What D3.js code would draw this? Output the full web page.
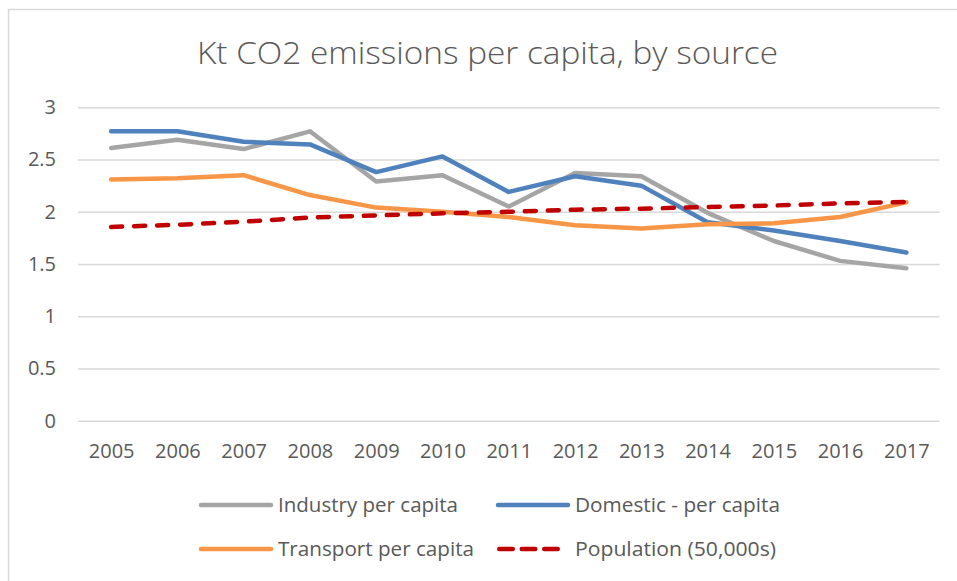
<!DOCTYPE html>
<html>
<head>
<meta charset="utf-8">
<script src="https://cdn.jsdelivr.net/npm/d3@7"></script>
<style>
  html, body { margin: 0; padding: 0; background: #fff; }
  svg { display: block; }
</style>
</head>
<body>
<svg id="chart" width="957" height="581"></svg>
<script>
// Years on the category axis
const years = ["2005", "2006", "2007", "2008", "2009", "2010", "2011", "2012", "2013", "2014", "2015", "2016", "2017"];

// Series values (kt CO2 per capita; population in 50,000s)
const industry   = [2.61, 2.69, 2.60, 2.77, 2.29, 2.35, 2.05, 2.37, 2.34, 1.99, 1.72, 1.53, 1.46];
const domestic   = [2.77, 2.77, 2.67, 2.645, 2.38, 2.53, 2.19, 2.34, 2.25, 1.90, 1.82, 1.72, 1.61];
const transport  = [2.31, 2.32, 2.35, 2.16, 2.04, 2.00, 1.95, 1.87, 1.84, 1.88, 1.89, 1.95, 2.09];
const population = [1.855, 1.875, 1.905, 1.945, 1.965, 1.985, 2.00, 2.02, 2.03, 2.045, 2.06, 2.08, 2.095];

// Value axis ticks
const yTicks = [0, 0.5, 1, 1.5, 2, 2.5, 3];

const seriesNames = ["Industry per capita", "Domestic - per capita", "Transport per capita", "Population (50,000s)"];
const seriesData = [industry, domestic, transport, population];
const seriesColors = ["#A5A5A5", "#4F81BD", "#F79646", "#C00000"];
const seriesDashed = [false, false, false, true];

const FONT = "'Open Sans', 'Noto Sans', sans-serif";
const TEXT = "#595959";

const svg = d3.select("#chart");

// Chart area frame
svg.append("rect")
  .attr("x", 8.5).attr("y", 9.5)
  .attr("width", 960).attr("height", 590)
  .attr("fill", "#fff")
  .attr("stroke", "#D9D9D9")
  .attr("stroke-width", 1.5);

const plot = { left: 78, right: 939.5, top: 107.3, bottom: 420.7 };

const x = d3.scalePoint().domain(years).range([plot.left, plot.right]).padding(0.5);
const y = d3.scaleLinear().domain([0, 3]).range([plot.bottom, plot.top]);

// Title
svg.append("text")
  .attr("x", 487.5).attr("y", 64)
  .attr("text-anchor", "middle")
  .attr("font-family", FONT)
  .attr("font-weight", 300)
  .attr("font-size", 31)
  .attr("fill", TEXT)
  .attr("textLength", 581)
  .attr("lengthAdjust", "spacingAndGlyphs")
  .text("Kt CO2 emissions per capita, by source");

// Horizontal gridlines
const grid = svg.append("g")
  .attr("transform", `translate(${plot.left},0)`)
  .call(d3.axisLeft(y).tickValues(yTicks).tickSize(-(plot.right - plot.left)).tickFormat(""));
grid.select(".domain").remove();
grid.selectAll(".tick line").attr("stroke", "#D9D9D9").attr("stroke-width", 1.5);

// Value axis labels
const yAxis = svg.append("g")
  .attr("transform", `translate(${plot.left},0)`)
  .call(d3.axisLeft(y).tickValues(yTicks).tickSize(0).tickPadding(22).tickFormat(d => String(d)));
yAxis.select(".domain").remove();
yAxis.selectAll("text")
  .attr("font-family", FONT).attr("font-size", 20).attr("fill", TEXT);

// Category axis labels
const xAxis = svg.append("g")
  .attr("transform", `translate(0,${plot.bottom})`)
  .call(d3.axisBottom(x).tickSize(0).tickPadding(23));
xAxis.select(".domain").remove();
xAxis.selectAll("text")
  .attr("font-family", FONT).attr("font-size", 20).attr("fill", TEXT);

// Series lines
const line = d3.line()
  .x((d, i) => x(years[i]))
  .y(d => y(d));

seriesData.forEach((vals, k) => {
  svg.append("path")
    .datum(vals)
    .attr("d", line)
    .attr("fill", "none")
    .attr("stroke", seriesColors[k])
    .attr("stroke-width", 4.5)
    .attr("stroke-linejoin", "round")
    .attr("stroke-linecap", "round")
    .attr("stroke-dasharray", seriesDashed[k] ? "11,12" : null);
});

// Legend: two rows of two entries
const legendCols = [200, 497];
const legendRows = [505, 549];
const legendTextLen = [180, 205, 196, 201];
seriesNames.forEach((name, k) => {
  const lx = legendCols[k % 2];
  const ly = legendRows[Math.floor(k / 2)];
  const g = svg.append("g");
  if (seriesDashed[k]) {
    // three whole dashes for the dashed swatch
    g.append("line")
      .attr("x1", lx + 2.25).attr("x2", lx + 60.75)
      .attr("y1", ly).attr("y2", ly)
      .attr("stroke", seriesColors[k])
      .attr("stroke-width", 4.5)
      .attr("stroke-linecap", "round")
      .attr("stroke-dasharray", "13.5,9");
  } else {
    g.append("line")
      .attr("x1", lx + 1).attr("x2", lx + 71)
      .attr("y1", ly).attr("y2", ly)
      .attr("stroke", seriesColors[k])
      .attr("stroke-width", 4.5)
      .attr("stroke-linecap", "round");
  }
  g.append("text")
    .attr("x", lx + 78).attr("y", ly)
    .attr("dy", "0.35em")
    .attr("font-family", FONT)
    .attr("font-size", 20)
    .attr("fill", TEXT)
    .attr("textLength", legendTextLen[k])
    .attr("lengthAdjust", "spacingAndGlyphs")
    .text(name);
});
</script>
</body>
</html>
